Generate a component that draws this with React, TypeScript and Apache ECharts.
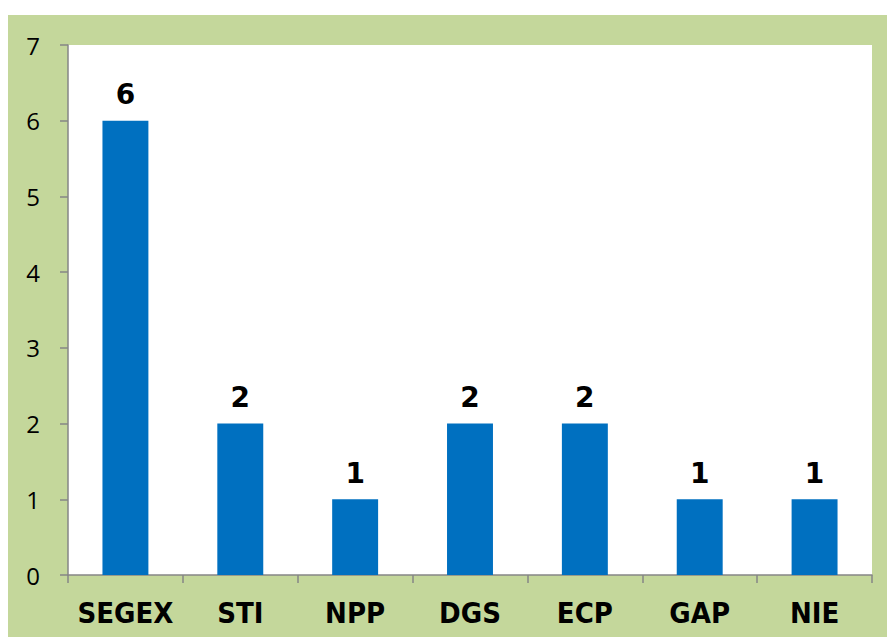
import React, { useEffect, useRef } from "react";
import * as echarts from "echarts";

const categories = ["SEGEX", "STI", "NPP", "DGS", "ECP", "GAP", "NIE"];
const values = [6, 2, 1, 2, 2, 1, 1];
const yMin = 0;
const yMax = 7;
const yStep = 1;

export default function App() {
  const ref = useRef<HTMLDivElement>(null);
  useEffect(() => {
    if (!ref.current) return;
    const chart = echarts.init(ref.current, null, { renderer: "svg" });
    chart.setOption({
      animation: false,
      backgroundColor: "#c4d79b",
      grid: {
        left: 60,
        top: 30,
        right: 15,
        bottom: 62,
        show: true,
        backgroundColor: "#ffffff",
        borderWidth: 0,
      },
      xAxis: {
        type: "category",
        data: categories,
        axisLine: { show: true, lineStyle: { color: "#868686", width: 1.5 } },
        axisTick: { show: true, length: 8, alignWithLabel: false, lineStyle: { color: "#868686", width: 1.5 } },
        axisLabel: {
          interval: 0,
          color: "#000000",
          fontFamily: "'DejaVu Sans Condensed', 'Liberation Sans', Arial, sans-serif",
          fontWeight: "bold",
          fontSize: 29,
          margin: 23,
        },
        splitLine: { show: false },
      },
      yAxis: {
        type: "value",
        min: yMin,
        max: yMax,
        interval: yStep,
        axisLine: { show: true, lineStyle: { color: "#868686", width: 1.5 } },
        axisTick: { show: true, length: 8, lineStyle: { color: "#868686", width: 1.5 } },
        axisLabel: {
          color: "#000000",
          fontFamily: "'Open Sans', 'Noto Sans', sans-serif",
          fontSize: 24,
          margin: 28,
        },
        splitLine: { show: false },
      },
      series: [
        {
          type: "bar",
          data: values,
          barWidth: "40%",
          itemStyle: { color: "#0070c0" },
          label: {
            show: true,
            position: "top",
            distance: 12,
            color: "#000000",
            fontFamily: "'DejaVu Sans', sans-serif",
            fontWeight: "bold",
            fontSize: 28,
          },
        },
      ],
    });
    return () => chart.dispose();
  }, []);
  return (
    <div
      ref={ref}
      style={{ position: "fixed", left: 8, top: 15, width: 879, height: 622 }}
    />
  );
}
